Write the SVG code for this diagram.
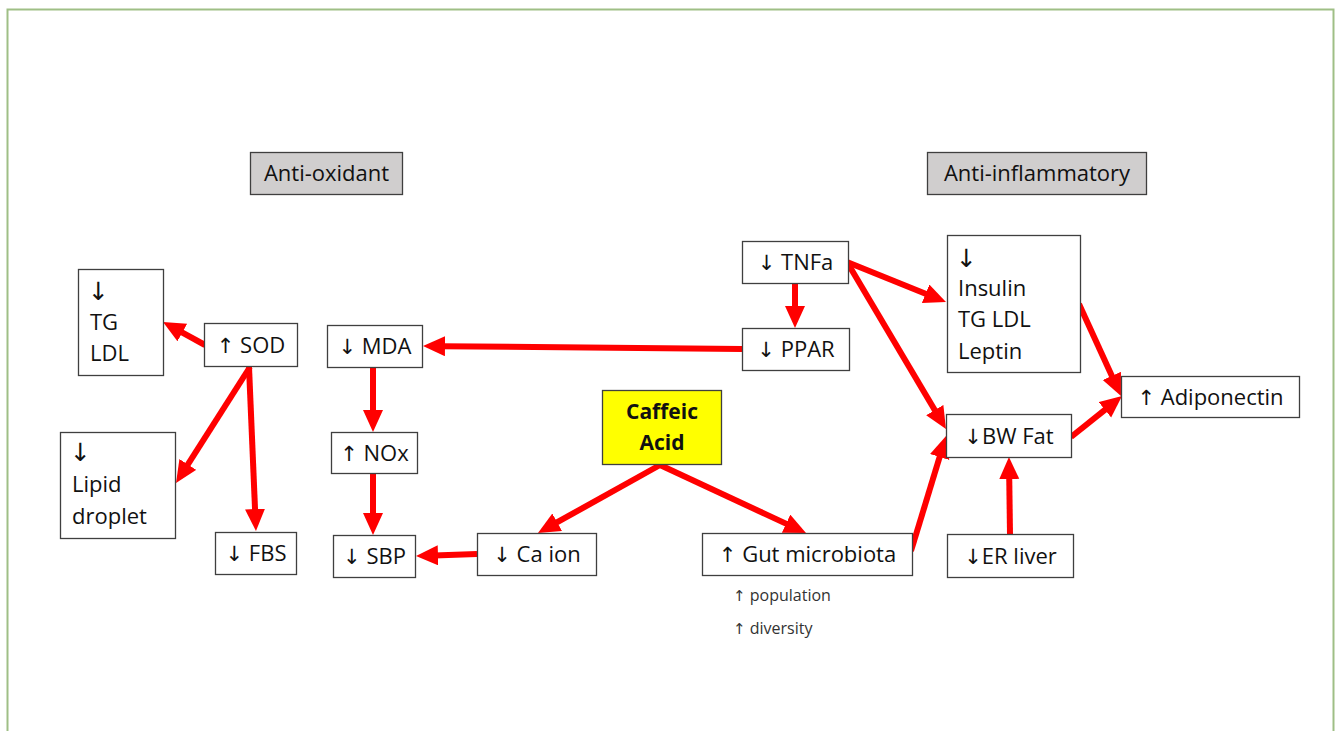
<svg xmlns="http://www.w3.org/2000/svg" width="1335" height="731" viewBox="0 0 1335 731">
<defs>
<style>
.box{fill:#fff;stroke:#3f3f3f;stroke-width:1.3}
.hdr{fill:#d0cece;stroke:#3f3f3f;stroke-width:1.3}
.yel{fill:#ffff00;stroke:#3f3f3f;stroke-width:1.3}
text{font-family:"Open Sans","Liberation Sans","DejaVu Sans",sans-serif;font-size:22px;fill:#111}
.ar{font-family:"DejaVu Sans",sans-serif;font-size:21px;fill:#111}
.arb{font-family:"DejaVu Sans",sans-serif;font-size:25px;fill:#111}
.c{text-anchor:middle}
.b{font-weight:bold}
.sm{font-size:16px;fill:#333}
.sm .ar{font-size:15px;fill:#333}
.conn line{stroke:#ff0000;stroke-width:6;marker-end:url(#ah)}
</style>
<marker id="ah" markerUnits="userSpaceOnUse" markerWidth="24" markerHeight="22" refX="4" refY="10" orient="auto">
<path d="M0,0 L22,10 L0,20 z" fill="#ff0000"/>
</marker>
</defs>
<rect x="0" y="0" width="1335" height="731" fill="#fff"/>
<rect x="7.5" y="9.5" width="1326" height="730" fill="none" stroke="#9fbf86" stroke-width="2"/>

<g class="conn">
<line x1="205" y1="345" x2="178.8" y2="330.6"/>
<line x1="250" y1="367" x2="185.7" y2="467.8"/>
<line x1="249" y1="367" x2="255.2" y2="513"/>
<line x1="742" y1="349" x2="441" y2="346.2"/>
<line x1="373" y1="367" x2="373" y2="414"/>
<line x1="373" y1="473" x2="373" y2="517"/>
<line x1="477" y1="554" x2="434" y2="555.4"/>
<line x1="660" y1="465" x2="553.7" y2="524.2"/>
<line x1="660" y1="465" x2="789.7" y2="525.4"/>
<line x1="795" y1="283" x2="795" y2="310"/>
<line x1="847" y1="262" x2="929.3" y2="295.3"/>
<line x1="847" y1="262" x2="936.8" y2="413.5"/>
<line x1="1079" y1="304" x2="1113.5" y2="379.6"/>
<line x1="1071" y1="437" x2="1108" y2="407.3"/>
<line x1="911" y1="551" x2="940.8" y2="453.2"/>
<line x1="1010" y1="534" x2="1009.2" y2="475"/>
</g>

<g id="antioxidant"><rect class="hdr" x="250.5" y="152.5" width="152" height="42"/><text class="c" x="326.5" y="181">Anti-oxidant</text></g>
<g id="antiinflammatory"><rect class="hdr" x="927.5" y="152.5" width="219" height="42"/><text class="c" x="1037" y="181">Anti-inflammatory</text></g>

<g id="tg-ldl"><rect class="box" x="78.5" y="269.5" width="85" height="106"/>
<text class="arb" x="88" y="300">↓</text><text x="90" y="330">TG</text><text x="90" y="361">LDL</text></g>
<g id="sod"><rect class="box" x="204.5" y="323.5" width="93" height="43"/><text class="c" x="251" y="353"><tspan class="ar">↑</tspan> SOD</text></g>
<g id="mda"><rect class="box" x="327.5" y="325.5" width="95" height="42"/><text class="c" x="375" y="354"><tspan class="ar">↓</tspan> MDA</text></g>
<g id="nox"><rect class="box" x="331.5" y="432.5" width="86" height="41"/><text class="c" x="374.5" y="461"><tspan class="ar">↑</tspan> NOx</text></g>
<g id="sbp"><rect class="box" x="333.5" y="535.5" width="82" height="42"/><text class="c" x="374.5" y="564"><tspan class="ar">↓</tspan> SBP</text></g>
<g id="fbs"><rect class="box" x="215.5" y="532.5" width="81" height="42"/><text class="c" x="256" y="561"><tspan class="ar">↓</tspan> FBS</text></g>
<g id="lipid"><rect class="box" x="60.5" y="432.5" width="115" height="106"/>
<text class="arb" x="70" y="461">↓</text><text x="72" y="492">Lipid</text><text x="72" y="524">droplet</text></g>
<g id="caffeic"><rect class="yel" x="602.5" y="390.5" width="119" height="74"/>
<text class="c b" x="662" y="419" style="font-size:21px">Caffeic</text><text class="c b" x="662" y="450" style="font-size:21px">Acid</text></g>
<g id="ca-ion"><rect class="box" x="477.5" y="533.5" width="119" height="42"/><text class="c" x="537" y="562"><tspan class="ar">↓</tspan> Ca ion</text></g>
<g id="gut"><rect class="box" x="702.5" y="533.5" width="210" height="42"/><text class="c" x="807.5" y="562"><tspan class="ar">↑</tspan> Gut microbiota</text>
<text class="sm" x="733" y="601"><tspan class="ar">↑</tspan> population</text><text class="sm" x="733" y="634"><tspan class="ar">↑</tspan> diversity</text></g>
<g id="tnfa"><rect class="box" x="742.5" y="241.5" width="106" height="42"/><text class="c" x="795.5" y="270"><tspan class="ar">↓</tspan> TNFa</text></g>
<g id="ppar"><rect class="box" x="742.5" y="328.5" width="107" height="42"/><text class="c" x="796" y="357"><tspan class="ar">↓</tspan> PPAR</text></g>
<g id="insulin"><rect class="box" x="947.5" y="235.5" width="133" height="137"/>
<text class="arb" x="956" y="267">↓</text><text x="958" y="296">Insulin</text><text x="958" y="327">TG LDL</text><text x="958" y="359">Leptin</text></g>
<g id="adiponectin"><rect class="box" x="1121.5" y="376.5" width="178" height="41"/><text class="c" x="1210.5" y="405"><tspan class="ar">↑</tspan> Adiponectin</text></g>
<g id="bw-fat"><rect class="box" x="946.5" y="414.5" width="125" height="43"/><text class="c" x="1009" y="444"><tspan class="ar">↓</tspan>BW Fat</text></g>
<g id="er-liver"><rect class="box" x="947.5" y="534.5" width="126" height="43"/><text class="c" x="1010.5" y="564"><tspan class="ar">↓</tspan>ER liver</text></g>
</svg>
